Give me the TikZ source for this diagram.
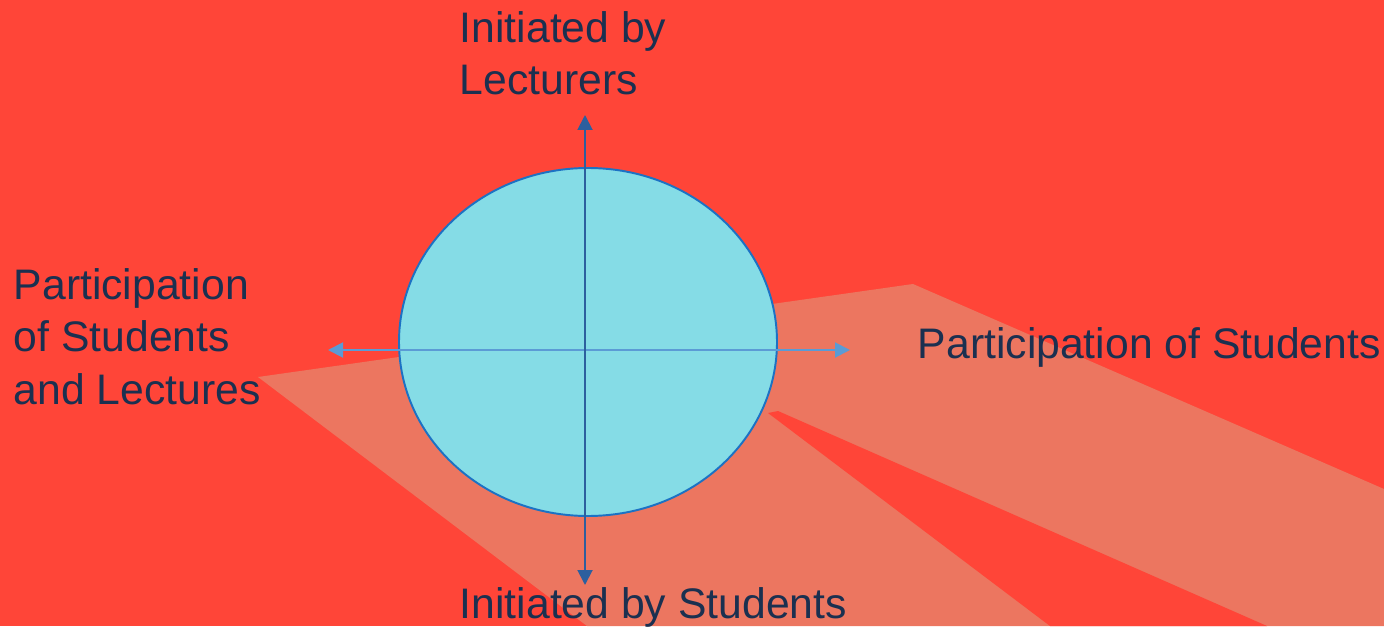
\documentclass[tikz,border=0pt]{standalone}
\usepackage{fontspec}
\setmainfont{Liberation Sans}
\usetikzlibrary{arrows.meta,shapes.geometric}

\definecolor{bgred}{HTML}{FF4538}
\definecolor{salmon}{HTML}{EC7660}
\definecolor{discfill}{HTML}{85DCE6}
\definecolor{discline}{HTML}{1C72C4}
\definecolor{vaxis}{HTML}{2D5F9E}
\definecolor{haxis}{HTML}{5B9BD5}
\definecolor{txtblue}{HTML}{1B3050}

\tikzset{
  lbl/.style={anchor=base west, inner sep=0pt, text=txtblue,
    font=\fontsize{24.3}{29.6}\selectfont, align=left},
  axis/.style={line width=1.1pt,
    {Triangle[length=0.3cm,width=0.3cm]}-{Triangle[length=0.3cm,width=0.3cm]}},
}

\begin{document}
\begin{tikzpicture}
\clip (0,0) rectangle (27.68,12.52);
\fill[bgred] (0,0) rectangle (27.68,12.52);

% light rays behind the disc
\fill[salmon] (5.16,4.98) -- (18.26,6.84) -- (27.68,2.74) -- (27.68,0) -- (11.74,0) -- cycle;
\fill[bgred] (15.36,4.26) -- (15.56,4.30) -- (25.34,0) -- (21.0,0) -- cycle;

\node[draw=discline, fill=discfill, line width=1.1pt, ellipse, inner sep=0pt,
  minimum width=7.56cm, minimum height=6.96cm] (c) at (11.76,5.68) {};

\coordinate (t) at (11.70,10.22);
\coordinate (b) at (11.70,0.82);
\coordinate (l) at (6.56,5.52);
\coordinate (r) at (17.00,5.52);

\path[draw,axis,haxis] (l) -- (r);
\path[draw,axis,vaxis] (b) -- (t);

% base anchor sits on the last line
\node[lbl] (lect) at (9.19,10.62) {Initiated by\\Lecturers};
\node[lbl] (both) at (0.27,4.44) {Participation\\of Students\\and Lectures};
\node[lbl] (part) at (18.35,5.36) {Participation of Students};
\node[lbl] (stud) at (9.19,0.16) {Initiated by Students};
\end{tikzpicture}
\end{document}
